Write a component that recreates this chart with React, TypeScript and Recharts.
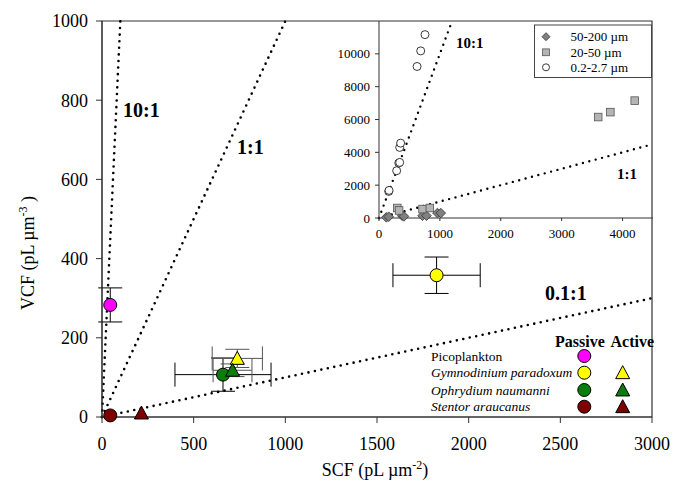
import React from "react";
import {
  ErrorBar,
  ReferenceArea,
  ReferenceLine,
  Scatter,
  ScatterChart,
  XAxis,
  YAxis,
} from "recharts";

const FONT = "'Liberation Serif', 'Times New Roman', serif";

// main panel: SCF vs VCF per species
const SPECIES = [
  "Picoplankton",
  "Gymnodinium paradoxum",
  "Ophrydium naumanni",
  "Stentor araucanus",
];
const PASSIVE_SCF = [45, 1825, 660, 45];
const PASSIVE_VCF = [283, 358, 107, 4];
const PASSIVE_SCF_ERR = [0, 238, 262, 0];
const PASSIVE_VCF_ERR = [43, 46, 42, 0];

const ACTIVE_SPECIES = [
  "Gymnodinium paradoxum",
  "Ophrydium naumanni",
  "Stentor araucanus",
];
const ACTIVE_SCF = [738, 712, 215];
const ACTIVE_VCF = [148, 118, 10];
const ACTIVE_SCF_ERR = [137, 106, 0];
const ACTIVE_VCF_ERR = [23, 16, 0];

const MAIN_X_TICKS = [0, 500, 1000, 1500, 2000, 2500, 3000];
const MAIN_Y_TICKS = [0, 200, 400, 600, 800, 1000];
const MAIN_RATIOS = [10, 1, 0.1];
const MAIN_RATIO_LABELS = ["10:1", "1:1", "0.1:1"];

// inset panel: size fractions
const SIZE_CLASSES = ["50-200 µm", "20-50 µm", "0.2-2.7 µm"];
const LARGE_SCF = [120, 160, 380, 410, 715, 780, 960, 1015];
const LARGE_VCF = [40, 80, 140, 100, 140, 140, 300, 300];
const MID_SCF = [300, 330, 715, 835, 3600, 3800, 4200];
const MID_VCF = [610, 460, 545, 610, 6150, 6450, 7150];
const PICO_SCF = [160, 165, 290, 325, 340, 340, 355, 625, 685, 755];
const PICO_VCF = [1620, 1680, 2880, 3350, 3385, 4300, 4560, 9230, 10180, 11170];

const INSET_X_TICKS = [0, 1000, 2000, 3000, 4000];
const INSET_Y_TICKS = [0, 2000, 4000, 6000, 8000, 10000];
const INSET_RATIOS = [10, 1];
const INSET_RATIO_LABELS = ["10:1", "1:1"];

const COLORS: Record<string, string> = {
  Picoplankton: "#ff00ff",
  "Gymnodinium paradoxum": "#ffff00",
  "Ophrydium naumanni": "#0a7d0a",
  "Stentor araucanus": "#7d0000",
};

const passiveData = SPECIES.map((name, i) => ({
  name,
  x: PASSIVE_SCF[i],
  y: PASSIVE_VCF[i],
  ex: PASSIVE_SCF_ERR[i],
  ey: PASSIVE_VCF_ERR[i],
}));
const activeData = ACTIVE_SPECIES.map((name, i) => ({
  name,
  x: ACTIVE_SCF[i],
  y: ACTIVE_VCF[i],
  ex: ACTIVE_SCF_ERR[i],
  ey: ACTIVE_VCF_ERR[i],
}));
const toPoints = (xs: number[], ys: number[]) =>
  xs.map((x, i) => ({ x, y: ys[i] }));

const ratioSegment = (k: number, xMax: number, yMax: number) => {
  const x = Math.min(xMax, yMax / k);
  return [
    { x: 0, y: 0 },
    { x, y: k * x },
  ];
};

const DOTS = {
  stroke: "#000",
  strokeWidth: 2.6,
  strokeDasharray: "0 6.6",
  strokeLinecap: "round" as const,
};

const Circle = (props: any) => (
  <circle
    cx={props.cx}
    cy={props.cy}
    r={6.5}
    fill={COLORS[props.payload.name]}
    stroke="#000"
    strokeWidth={1}
  />
);

const triPoints = (cx: number, cy: number, h: number) =>
  `${cx},${cy - h} ${cx + h},${cy + h * 0.85} ${cx - h},${cy + h * 0.85}`;

const Triangle = (props: any) => (
  <polygon
    points={triPoints(props.cx, props.cy, 7)}
    fill={COLORS[props.payload.name]}
    stroke="#000"
    strokeWidth={1}
  />
);

const Diamond = ({ cx, cy, s = 4.8 }: any) => (
  <polygon
    points={`${cx},${cy - s} ${cx + s},${cy} ${cx},${cy + s} ${cx - s},${cy}`}
    fill="#808080"
    stroke="#333"
    strokeWidth={0.8}
  />
);
const Square = ({ cx, cy, s = 3.8 }: any) => (
  <rect
    x={cx - s}
    y={cy - s}
    width={s * 2}
    height={s * 2}
    fill="#b4b4b4"
    stroke="#555"
    strokeWidth={0.8}
  />
);
const Ring = ({ cx, cy, r = 4 }: any) => (
  <circle cx={cx} cy={cy} r={r} fill="#fff" stroke="#222" strokeWidth={0.9} />
);

const INSET_SHAPES = [Diamond, Square, Ring];

function MainChart() {
  return (
    <ScatterChart
      width={674}
      height={492}
      margin={{ top: 21, right: 22, bottom: 45, left: 42 }}
      style={{ position: "absolute", left: 0, top: 0 }}
    >
      <XAxis
        type="number"
        dataKey="x"
        domain={[0, 3000]}
        ticks={MAIN_X_TICKS}
        height={30}
        tickSize={6}
        tickMargin={14}
        stroke="#333"
        tick={{ fontSize: 18, fill: "#000", fontFamily: FONT }}
      />
      <YAxis
        type="number"
        dataKey="y"
        domain={[0, 1000]}
        ticks={MAIN_Y_TICKS}
        width={60}
        tickSize={6}
        tickMargin={8}
        stroke="#333"
        tick={{ fontSize: 18, fill: "#000", fontFamily: FONT }}
      />
      <ReferenceArea
        x1={0}
        x2={3000}
        y1={0}
        y2={1000}
        fill="none"
        stroke="#333"
        strokeWidth={1.2}
        ifOverflow="visible"
      />
      {MAIN_RATIOS.map((k) => (
        <ReferenceLine
          key={k}
          segment={ratioSegment(k, 3000, 1000)}
          ifOverflow="visible"
          {...DOTS}
        />
      ))}
      <Scatter data={passiveData} shape={Circle} isAnimationActive={false}>
        <ErrorBar dataKey="ex" direction="x" width={12} stroke="#000" strokeWidth={1} />
        <ErrorBar dataKey="ey" direction="y" width={12} stroke="#000" strokeWidth={1} />
      </Scatter>
      <Scatter data={activeData} shape={Triangle} isAnimationActive={false}>
        <ErrorBar dataKey="ex" direction="x" width={12} stroke="#555" strokeWidth={1} />
        <ErrorBar dataKey="ey" direction="y" width={12} stroke="#555" strokeWidth={1} />
      </Scatter>
    </ScatterChart>
  );
}

function InsetChart() {
  const series = [
    toPoints(LARGE_SCF, LARGE_VCF),
    toPoints(MID_SCF, MID_VCF),
    toPoints(PICO_SCF, PICO_VCF),
  ];
  return (
    <ScatterChart
      width={340}
      height={250}
      margin={{ top: 21, right: 7, bottom: 7, left: 14 }}
      style={{ position: "absolute", left: 320, top: 0 }}
    >
      <XAxis
        type="number"
        dataKey="x"
        domain={[0, 4500]}
        ticks={INSET_X_TICKS}
        height={25}
        tickSize={3}
        tickMargin={8}
        stroke="#333"
        tick={{ fontSize: 13, fill: "#000", fontFamily: FONT }}
      />
      <YAxis
        type="number"
        dataKey="y"
        domain={[0, 12000]}
        ticks={INSET_Y_TICKS}
        width={45}
        tickSize={4}
        tickMargin={5}
        stroke="#333"
        tick={{ fontSize: 13, fill: "#000", fontFamily: FONT }}
      />
      {INSET_RATIOS.map((k) => (
        <ReferenceLine
          key={k}
          segment={ratioSegment(k, 4450, 12000)}
          ifOverflow="visible"
          {...DOTS}
          strokeWidth={2.4}
        />
      ))}
      {series.map((data, i) => {
        const Shape = INSET_SHAPES[i];
        return (
          <Scatter
            key={SIZE_CLASSES[i]}
            data={data}
            isAnimationActive={false}
            shape={(p: any) => <Shape cx={p.cx} cy={p.cy} />}
          />
        );
      })}
    </ScatterChart>
  );
}

function Overlay() {
  const bold = { fontFamily: FONT, fontWeight: 700, fill: "#000" };
  const mainLabelPos = [
    [123, 117],
    [237, 153.5],
    [545, 300],
  ];
  const insetLabelPos = [
    [456, 47.5],
    [617, 178.5],
  ];
  const rows = [356, 372.7, 390, 406.7];
  const insetRows = [36.7, 52.3, 67.3];
  return (
    <svg
      width={674}
      height={492}
      style={{ position: "absolute", left: 0, top: 0, pointerEvents: "none" }}
    >
      {MAIN_RATIO_LABELS.map((t, i) => (
        <text key={t} x={mainLabelPos[i][0]} y={mainLabelPos[i][1]} fontSize={20} {...bold}>
          {t}
        </text>
      ))}
      {INSET_RATIO_LABELS.map((t, i) => (
        <text key={t} x={insetLabelPos[i][0]} y={insetLabelPos[i][1]} fontSize={15} {...bold}>
          {t}
        </text>
      ))}

      {/* species legend */}
      <text x={555} y={347} fontSize={16} {...bold}>
        Passive
      </text>
      <text x={610.5} y={347} fontSize={16} {...bold}>
        Active
      </text>
      {SPECIES.map((name, i) => (
        <g key={name}>
          <text
            x={431}
            y={rows[i] + 4.5}
            fontSize={13.5}
            fontFamily={FONT}
            fontStyle={i === 0 ? "normal" : "italic"}
          >
            {name}
          </text>
          <circle cx={584.3} cy={rows[i]} r={6.5} fill={COLORS[name]} stroke="#000" />
          {ACTIVE_SPECIES.includes(name) && (
            <polygon
              points={triPoints(622.7, rows[i], 7)}
              fill={COLORS[name]}
              stroke="#000"
            />
          )}
        </g>
      ))}

      {/* size-class legend */}
      <rect x={534.5} y={25} width={117} height={52.5} fill="#fff" stroke="#444" strokeWidth={1} />
      {SIZE_CLASSES.map((name, i) => {
        const Shape = INSET_SHAPES[i];
        return (
          <g key={name}>
            <Shape cx={546} cy={insetRows[i]} s={i === 0 ? 4 : 3.4} r={3.5} />
            <text x={570.5} y={insetRows[i] + 4.5} fontSize={13} fontFamily={FONT}>
              {name}
            </text>
          </g>
        );
      })}

      {/* axis titles */}
      <text x={375} y={476} fontSize={18} fontFamily={FONT} textAnchor="middle">
        SCF (pL µm
        <tspan fontSize={12} dy={-7}>
          -2
        </tspan>
        <tspan dy={7}>)</tspan>
      </text>
      <text
        transform="translate(34,253) rotate(-90)"
        fontSize={18}
        fontFamily={FONT}
        textAnchor="middle"
      >
        VCF (pL µm
        <tspan fontSize={12} dy={-7}>
          -3
        </tspan>
        <tspan dy={7}> )</tspan>
      </text>
    </svg>
  );
}

export default function App() {
  return (
    <div
      style={{
        position: "absolute",
        left: 0,
        top: 0,
        width: 674,
        height: 492,
        background: "#fff",
        fontFamily: FONT,
      }}
    >
      <MainChart />
      <InsetChart />
      <Overlay />
    </div>
  );
}
